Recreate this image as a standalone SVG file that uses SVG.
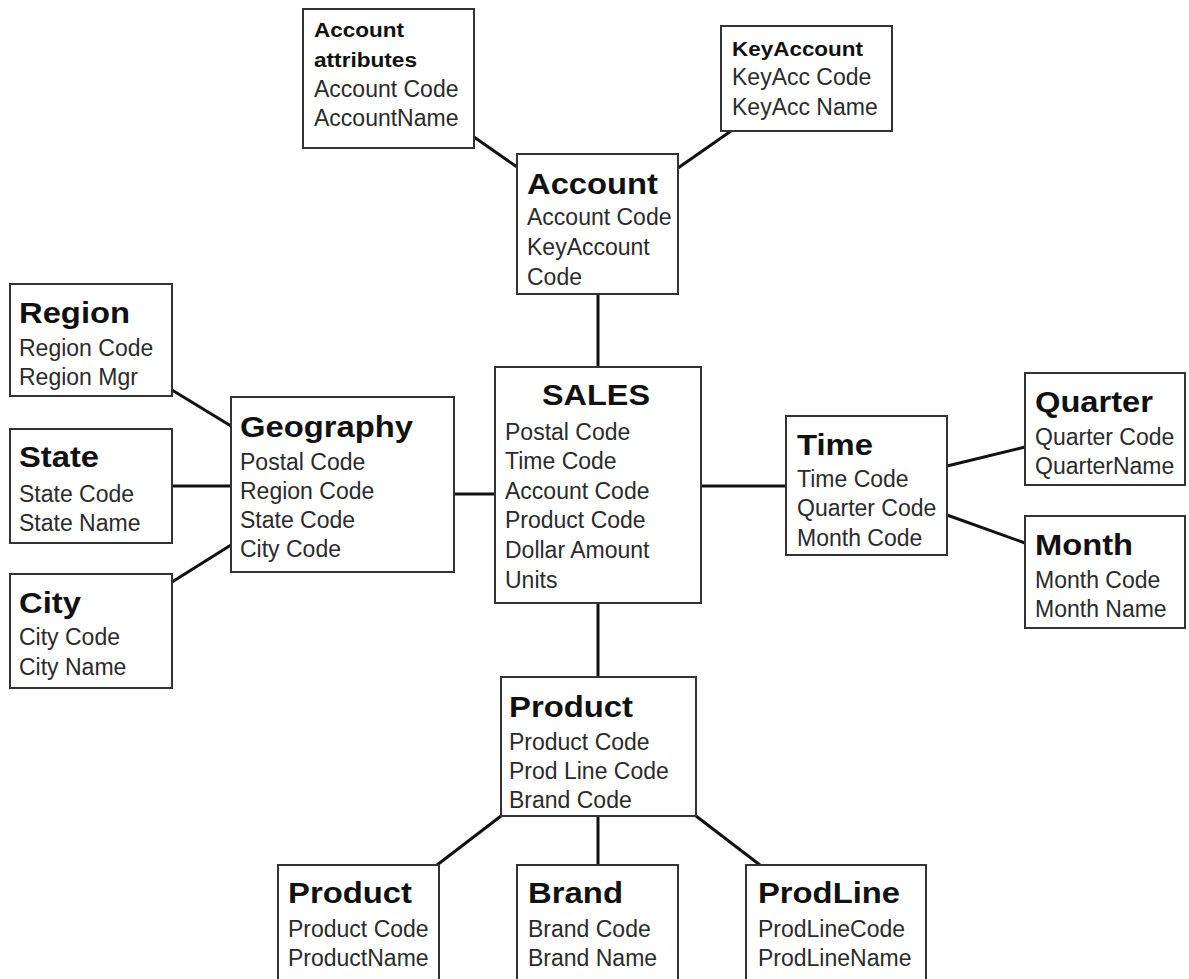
<svg xmlns="http://www.w3.org/2000/svg" width="1189" height="979" viewBox="0 0 1189 979">
<style>
.box{fill:#fff;stroke:#333;stroke-width:2}
.t{font-family:"Liberation Sans",Arial,sans-serif;font-size:29px;font-weight:bold;fill:#111}
.ts{font-family:"Liberation Sans",Arial,sans-serif;font-size:20px;font-weight:bold;fill:#111}
.a{font-family:"Liberation Sans",Arial,sans-serif;font-size:23px;fill:#2b2b2b}
.c line{stroke:#111;stroke-width:3;stroke-linecap:butt}
</style>
<rect width="1189" height="979" fill="#fff"/>
<g class="c" id="connectors">
<line x1="474" y1="137" x2="517" y2="167"/>
<line x1="678" y1="168" x2="731" y2="131"/>
<line x1="598" y1="294" x2="598" y2="367"/>
<line x1="172" y1="390" x2="231" y2="426"/>
<line x1="172" y1="486" x2="231" y2="486"/>
<line x1="172" y1="582" x2="231" y2="545"/>
<line x1="454" y1="494" x2="502" y2="494"/>
<line x1="701" y1="486" x2="786" y2="486"/>
<line x1="947" y1="466" x2="1025" y2="447"/>
<line x1="947" y1="515" x2="1025" y2="543"/>
<line x1="598" y1="603" x2="598" y2="677"/>
<line x1="501" y1="816" x2="437" y2="865"/>
<line x1="598" y1="816" x2="598" y2="865"/>
<line x1="696" y1="816" x2="760" y2="865"/>
</g>
<g id="account-attributes">
<rect class="box" x="303" y="9" width="171" height="139"/>
<text class="ts" x="314" y="37" textLength="90" lengthAdjust="spacingAndGlyphs">Account</text>
<text class="ts" x="314" y="67" textLength="103" lengthAdjust="spacingAndGlyphs">attributes</text>
<text class="a" x="314" y="97">Account Code</text>
<text class="a" x="314" y="126">AccountName</text>
</g>
<g id="keyaccount">
<rect class="box" x="721" y="26" width="171" height="105"/>
<text class="ts" x="732" y="56" textLength="131" lengthAdjust="spacingAndGlyphs">KeyAccount</text>
<text class="a" x="732" y="85">KeyAcc Code</text>
<text class="a" x="732" y="115">KeyAcc Name</text>
</g>
<g id="account">
<rect class="box" x="517" y="154" width="161" height="140"/>
<text class="t" x="527" y="194" textLength="131" lengthAdjust="spacingAndGlyphs">Account</text>
<text class="a" x="527" y="225">Account Code</text>
<text class="a" x="527" y="255">KeyAccount</text>
<text class="a" x="527" y="285">Code</text>
</g>
<g id="region">
<rect class="box" x="10" y="284" width="162" height="112"/>
<text class="t" x="19" y="323" textLength="111" lengthAdjust="spacingAndGlyphs">Region</text>
<text class="a" x="19" y="356">Region Code</text>
<text class="a" x="19" y="385">Region Mgr</text>
</g>
<g id="state">
<rect class="box" x="10" y="429" width="162" height="114"/>
<text class="t" x="19" y="467" textLength="80" lengthAdjust="spacingAndGlyphs">State</text>
<text class="a" x="19" y="502">State Code</text>
<text class="a" x="19" y="531">State Name</text>
</g>
<g id="city">
<rect class="box" x="10" y="574" width="162" height="114"/>
<text class="t" x="19" y="613" textLength="62" lengthAdjust="spacingAndGlyphs">City</text>
<text class="a" x="19" y="645">City Code</text>
<text class="a" x="19" y="675">City Name</text>
</g>
<g id="geography">
<rect class="box" x="231" y="397" width="223" height="175"/>
<text class="t" x="240" y="437" textLength="173" lengthAdjust="spacingAndGlyphs">Geography</text>
<text class="a" x="240" y="470">Postal Code</text>
<text class="a" x="240" y="499">Region Code</text>
<text class="a" x="240" y="528">State Code</text>
<text class="a" x="240" y="557">City Code</text>
</g>
<g id="sales">
<rect class="box" x="495" y="367" width="206" height="236"/>
<text class="t" x="542" y="405" textLength="108" lengthAdjust="spacingAndGlyphs">SALES</text>
<text class="a" x="505" y="440">Postal Code</text>
<text class="a" x="505" y="469">Time Code</text>
<text class="a" x="505" y="499">Account Code</text>
<text class="a" x="505" y="528">Product Code</text>
<text class="a" x="505" y="558">Dollar Amount</text>
<text class="a" x="505" y="588">Units</text>
</g>
<g id="time">
<rect class="box" x="786" y="416" width="161" height="139"/>
<text class="t" x="797" y="455" textLength="76" lengthAdjust="spacingAndGlyphs">Time</text>
<text class="a" x="797" y="487">Time Code</text>
<text class="a" x="797" y="516">Quarter Code</text>
<text class="a" x="797" y="546">Month Code</text>
</g>
<g id="quarter">
<rect class="box" x="1025" y="373" width="160" height="112"/>
<text class="t" x="1035" y="412" textLength="118" lengthAdjust="spacingAndGlyphs">Quarter</text>
<text class="a" x="1035" y="445">Quarter Code</text>
<text class="a" x="1035" y="474">QuarterName</text>
</g>
<g id="month">
<rect class="box" x="1025" y="516" width="160" height="112"/>
<text class="t" x="1035" y="555" textLength="98" lengthAdjust="spacingAndGlyphs">Month</text>
<text class="a" x="1035" y="588">Month Code</text>
<text class="a" x="1035" y="617">Month Name</text>
</g>
<g id="product">
<rect class="box" x="501" y="677" width="195" height="139"/>
<text class="t" x="509" y="717" textLength="124" lengthAdjust="spacingAndGlyphs">Product</text>
<text class="a" x="509" y="750">Product Code</text>
<text class="a" x="509" y="779">Prod Line Code</text>
<text class="a" x="509" y="808">Brand Code</text>
</g>
<g id="product-dim">
<rect class="box" x="278" y="865" width="161" height="130"/>
<text class="t" x="288" y="903" textLength="124" lengthAdjust="spacingAndGlyphs">Product</text>
<text class="a" x="288" y="937">Product Code</text>
<text class="a" x="288" y="966">ProductName</text>
</g>
<g id="brand">
<rect class="box" x="517" y="865" width="161" height="130"/>
<text class="t" x="528" y="903" textLength="95" lengthAdjust="spacingAndGlyphs">Brand</text>
<text class="a" x="528" y="937">Brand Code</text>
<text class="a" x="528" y="966">Brand Name</text>
</g>
<g id="prodline">
<rect class="box" x="746" y="865" width="180" height="130"/>
<text class="t" x="758" y="903" textLength="142" lengthAdjust="spacingAndGlyphs">ProdLine</text>
<text class="a" x="758" y="937">ProdLineCode</text>
<text class="a" x="758" y="966">ProdLineName</text>
</g>
</svg>
